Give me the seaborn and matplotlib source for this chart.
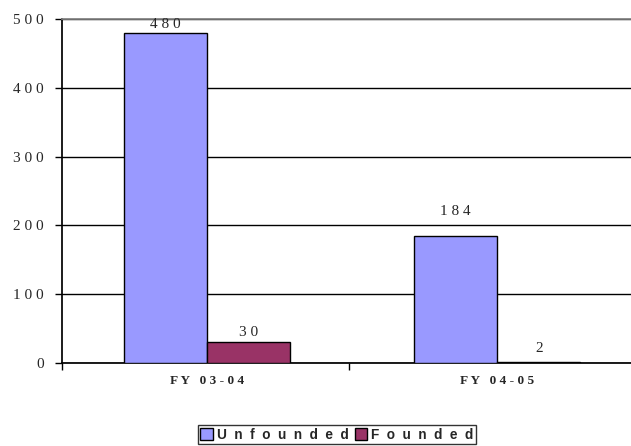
import pandas as pd
import matplotlib.pyplot as plt
import seaborn as sns

# data
years = ['FY 03-04', 'FY 04-05']
unfounded = [480, 184]
founded = [30, 2]
series = ['Unfounded', 'Founded']

df = pd.DataFrame({
    'Year': years * 2,
    'Count': unfounded + founded,
    'Type': ['Unfounded'] * len(years) + ['Founded'] * len(years),
})

def spaced(s, sep=' '):
    return sep.join(s)

sns.set_theme(style='white')
plt.rcParams['font.family'] = ['Liberation Serif', 'DejaVu Serif']

fig = plt.figure(figsize=(6.31, 4.46), dpi=100)
ax = fig.add_axes([62 / 631, 1 - 363 / 446, 580 / 631, 344 / 446])

sns.barplot(data=df, x='Year', y='Count', hue='Type', hue_order=series,
            palette={'Unfounded': '#9999FF', 'Founded': '#993366'},
            width=0.575, edgecolor='black', linewidth=1, saturation=1,
            ax=ax, legend=False, zorder=3)

# Excel-style value labels, each sitting a little above its bar
pads = {'Unfounded': [1, 13.5], 'Founded': [2.5, 5]}
for container, name in zip(ax.containers, series):
    labels = [spaced(str(int(v))) for v in container.datavalues]
    for bar, lab, p in zip(container, labels, pads[name]):
        ax.annotate(lab, (bar.get_x() + bar.get_width() / 2, bar.get_height()),
                    xytext=(0, p), textcoords='offset points',
                    ha='center', va='bottom', fontsize=11)

ax.set_xlim(-0.5, 1.5)
ax.set_ylim(0, 500)
ticks = [0, 100, 200, 300, 400, 500]
ax.set_yticks(ticks)
ax.set_yticklabels([spaced(str(v)) for v in ticks], fontsize=11)
ax.yaxis.grid(True, color='black', linewidth=1)
ax.set_axisbelow(True)

# category boundary tick, labels centred under the groups
ax.set_xticks([-0.5, 0.488])
ax.set_xticklabels([])
ax.set_xticks([0, 1], minor=True)
ax.set_xticklabels([spaced(y) for y in years], minor=True,
                   fontsize=9.5, fontweight='bold')
ax.tick_params(axis='x', which='major', length=5, width=1, color='black', direction='out', bottom=True)
ax.tick_params(axis='x', which='minor', length=0, pad=9)
ax.tick_params(axis='y', length=5, width=1, color='black', direction='out', left=True, pad=8)

ax.set_xlabel('')
ax.set_ylabel('')
ax.spines['right'].set_visible(False)
ax.spines['top'].set_color('#808080')
ax.spines['left'].set_color('black')
ax.spines['bottom'].set_color('black')

handles = [plt.Rectangle((0, 0), 1, 1, facecolor=c, edgecolor='black', linewidth=1)
           for c in ['#9999FF', '#993366']]
leg = fig.legend(handles, [spaced(s, '  ') for s in series], loc='upper center',
                 bbox_to_anchor=(337 / 631, 1 - 425 / 446), ncol=2, frameon=True,
                 fancybox=False, handlelength=0.9, handleheight=0.9, handletextpad=0.3,
                 columnspacing=0.5, borderpad=0.2, borderaxespad=0,
                 prop={'family': 'Liberation Sans', 'weight': 'bold', 'size': 9.8})
leg.get_frame().set_edgecolor('black')
leg.get_frame().set_linewidth(1)

fig.savefig('out.png', dpi=100)
